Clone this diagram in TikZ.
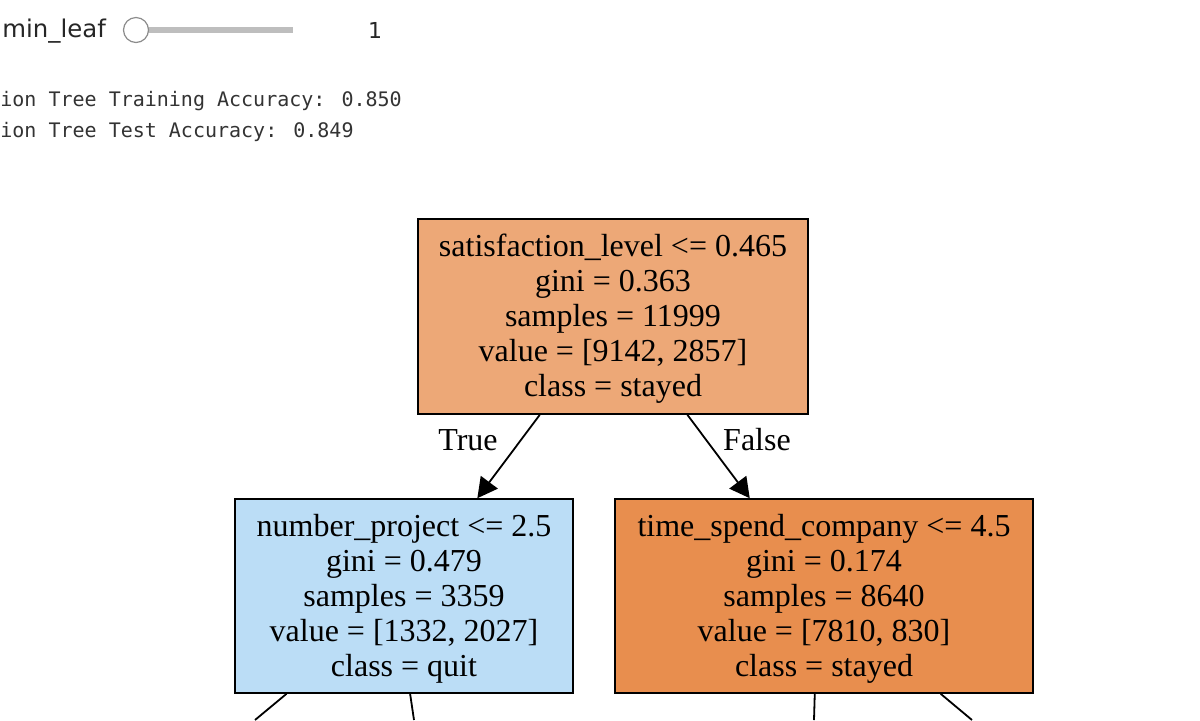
\documentclass[tikz,border=0pt]{standalone}
\usepackage{fontspec}
\setmainfont{Liberation Serif}
\newfontfamily\uisans{DejaVu Sans}
\newfontfamily\uimono{DejaVu Sans Mono}
\usetikzlibrary{arrows.meta,calc}
\definecolor{rootc}{RGB}{237,168,119}
\definecolor{leftc}{RGB}{187,221,246}
\definecolor{rightc}{RGB}{232,142,78}
\definecolor{monoc}{RGB}{51,51,51}
\definecolor{trackc}{RGB}{190,190,190}
\newcommand{\lowertxt}[1]{\raisebox{-1.5pt}[\height][\depth]{\begin{tabular}{@{}c@{}}#1\end{tabular}}}
\begin{document}
\begin{tikzpicture}[x=0.5pt,y=-0.5pt,
  treenode/.style={draw=black,line width=0.8pt,inner sep=0pt,align=center,
    font=\fontsize{16}{17.5}\selectfont},
  edgelbl/.style={font=\fontsize{16}{17.5}\selectfont,inner sep=0pt},
  treeedge/.style={line width=0.9pt,-{Triangle[length=10pt,width=10.5pt]}},
  stubedge/.style={line width=0.9pt},
  monotext/.style={font=\uimono\fontsize{10}{12}\selectfont,text=monoc,anchor=west,inner sep=0pt},
]
\useasboundingbox (0,0) rectangle (1200,720);
\fill[white] (0,0) rectangle (1200,720);

% widget
\node[anchor=west,inner sep=0pt,font=\uisans\fontsize{12.2}{14}\selectfont,text=black!85] (lbl) at (2,31) {min\_leaf};
\coordinate (trs) at (148,30);
\coordinate (tre) at (293,30);
\draw[trackc,line width=3pt] (trs) -- (tre);
\node[circle,draw=black!45,fill=white,line width=0.6pt,minimum size=12.5pt,inner sep=0pt] (knob) at (136,30) {};
\node[inner sep=0pt,font=\uisans\fontsize{11}{13}\selectfont,text=black!85] (val) at (375,30) {1};

% accuracy text
\node[monotext] (acc1) at (0,101.5) {ion Tree Training Accuracy: 0.850};
\node[monotext] (acc2) at (0,131.5) {ion Tree Test Accuracy: 0.849};

% tree nodes
\node[treenode,fill=rootc,minimum width=195pt,minimum height=97.5pt] (root) at (613,316.5)
  {\lowertxt{satisfaction\_level <= 0.465\\gini = 0.363\\samples = 11999\\value = [9142, 2857]\\class = stayed}};
\node[treenode,fill=leftc,minimum width=169pt,minimum height=97pt] (left) at (404,596)
  {\lowertxt{number\_project <= 2.5\\gini = 0.479\\samples = 3359\\value = [1332, 2027]\\class = quit}};
\node[treenode,fill=rightc,minimum width=209pt,minimum height=97pt] (right) at (824,596)
  {\lowertxt{time\_spend\_company <= 4.5\\gini = 0.174\\samples = 8640\\value = [7810, 830]\\class = stayed}};

% edges
\draw[treeedge] ($(root.south west)!0.313!(root.south east)$) -- ($(left.north west)!0.716!(left.north east)$);
\draw[treeedge] ($(root.south west)!0.69!(root.south east)$) -- ($(right.north west)!0.323!(right.north east)$);
\node[edgelbl] (tlbl) at (468,440) {True};
\node[edgelbl] (flbl) at (757,440) {False};

% stubs to children below the frame
\coordinate (c1) at (255,720);
\coordinate (c2) at (414,720);
\coordinate (c3) at (814,720);
\coordinate (c4) at (972,720);
\draw[stubedge] ($(left.south west)!0.154!(left.south east)$) -- (c1);
\draw[stubedge] ($(left.south west)!0.518!(left.south east)$) -- (c2);
\draw[stubedge] ($(right.south west)!0.478!(right.south east)$) -- (c3);
\draw[stubedge] ($(right.south west)!0.778!(right.south east)$) -- (c4);
\end{tikzpicture}
\end{document}
